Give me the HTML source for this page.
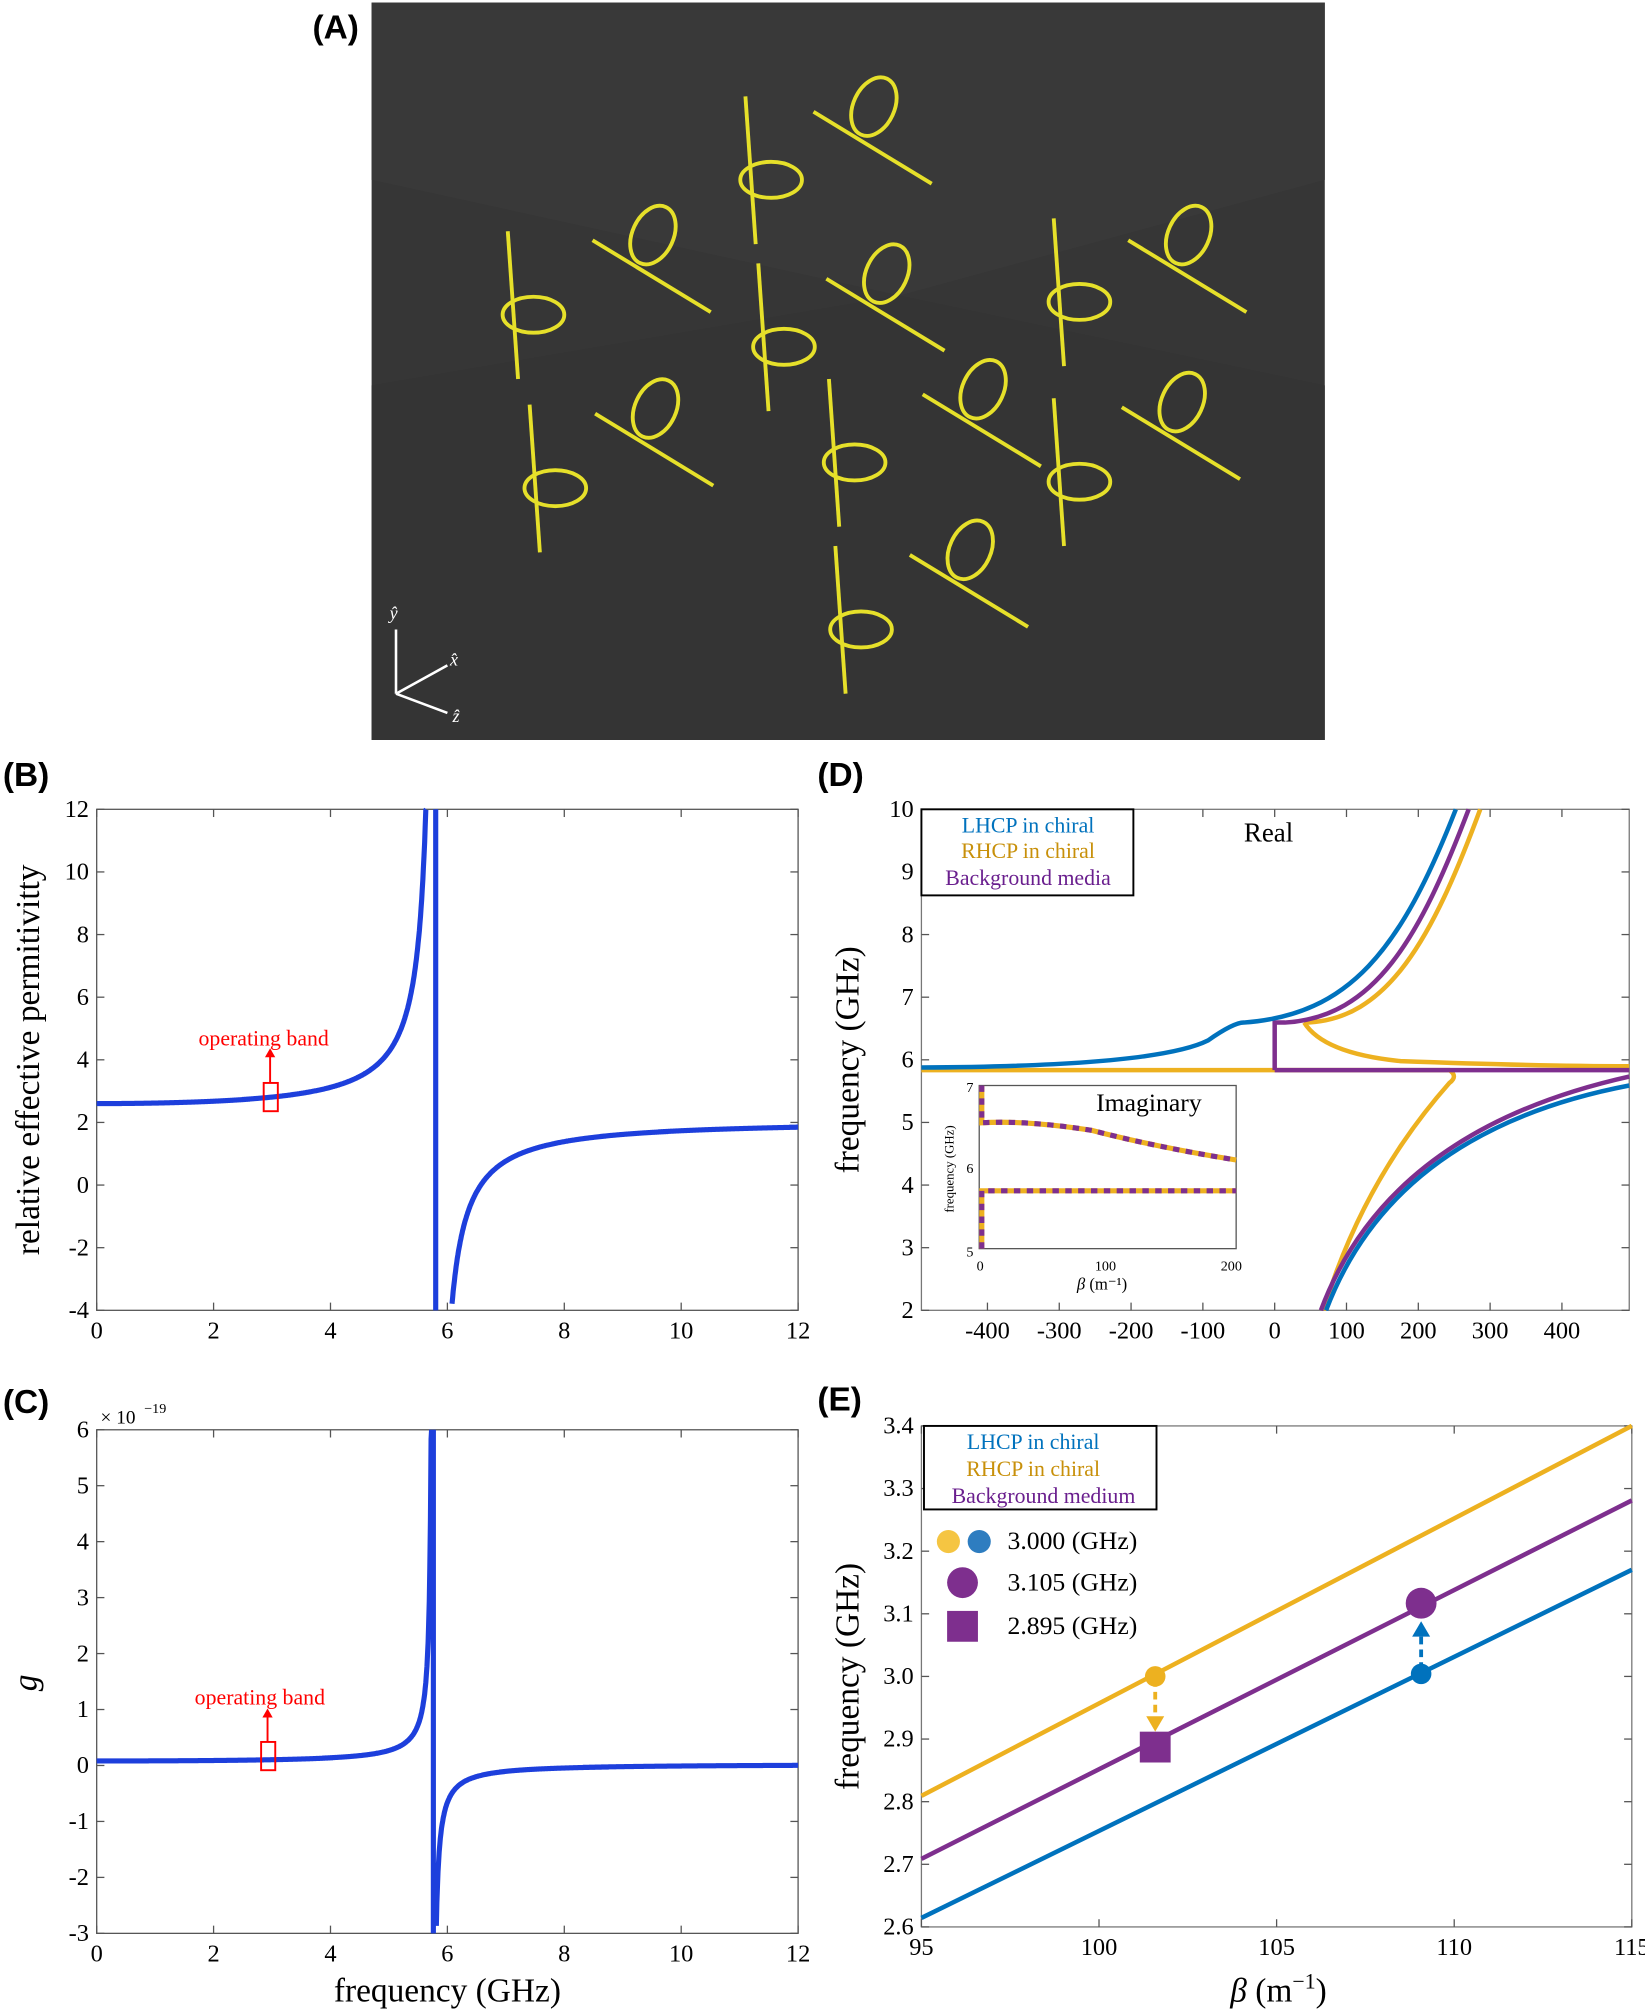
<!DOCTYPE html>
<html><head><meta charset="utf-8"><style>
html,body{margin:0;padding:0;background:#fff}
svg{display:block}
text{font-family:"Liberation Serif",serif}
.lab{font-family:"Liberation Sans",sans-serif;font-weight:bold;font-size:26px}
</style></head><body>
<svg id="s" width="1645" height="2013" viewBox="0 0 1280 1567" xmlns="http://www.w3.org/2000/svg">
<!-- Panel A -->
<text class="lab" x="243" y="30">(A)</text>
<rect x="289" y="2" width="742" height="574" fill="#363636"/>
<polygon points="289,2 1031,2 1031,140 700,230 289,140" fill="#393939"/>
<polygon points="289,300 700,230 1031,300 1031,576 289,576" fill="#343434"/>
<g stroke="#e6e02a" stroke-width="3" fill="none" id="helices"></g>
<g stroke="#fff" stroke-width="2" fill="none">
<line x1="308" y1="540" x2="308" y2="490"/><line x1="308" y1="540" x2="348" y2="518"/><line x1="308" y1="540" x2="348" y2="555"/>
</g>
<g fill="#fff" font-size="14" font-style="italic"><text x="303" y="482">ŷ</text><text x="350" y="518">x̂</text><text x="352" y="562">ẑ</text></g>

<!-- Panel B -->
<text class="lab" x="2" y="612">(B)</text>
<rect x="75" y="630" width="546" height="390" fill="none" stroke="#555" stroke-width="1"/>
<g id="bt"></g>
<path id="bc" fill="none" stroke="#1d3fdc" stroke-width="4"/>
<text x="30" y="825" font-size="26" transform="rotate(-90 30 825)" text-anchor="middle">relative effective permitivitty</text>
<rect x="205" y="843" width="11" height="22" fill="none" stroke="red" stroke-width="1.5"/>
<line x1="210" y1="843" x2="210" y2="822" stroke="red" stroke-width="1.5"/><polygon points="206,823 214,823 210,816" fill="red"/>
<text x="205" y="814" fill="red" font-size="17" text-anchor="middle">operating band</text>

<!-- Panel C -->
<text class="lab" x="2" y="1100">(C)</text>
<text x="78" y="1108" font-size="15">× 10</text><text x="112" y="1100" font-size="11">−19</text>
<rect x="75" y="1113" width="546" height="392" fill="none" stroke="#555" stroke-width="1"/>
<g id="ct"></g>
<path id="cc" fill="none" stroke="#1d3fdc" stroke-width="4"/>
<text x="28" y="1310" font-size="26" font-style="italic" transform="rotate(-90 28 1310)" text-anchor="middle">g</text>
<text x="348" y="1558" font-size="26" text-anchor="middle">frequency (GHz)</text>
<rect x="203" y="1356" width="11" height="22" fill="none" stroke="red" stroke-width="1.5"/>
<line x1="208" y1="1356" x2="208" y2="1336" stroke="red" stroke-width="1.5"/><polygon points="204,1337 212,1337 208,1330" fill="red"/>
<text x="202" y="1327" fill="red" font-size="17" text-anchor="middle">operating band</text>

<!-- Panel D -->
<text class="lab" x="636" y="612">(D)</text>
<rect x="717" y="630" width="551" height="390" fill="none" stroke="#777" stroke-width="1"/>
<g id="dt"></g>
<text x="668" y="825" font-size="26" transform="rotate(-90 668 825)" text-anchor="middle">frequency (GHz)</text>
<g fill="none" stroke-width="3.5">
<path stroke="#EDB120" d="M717,833 L1128,833 Q1135,838 1128,843 Q1060,920 1030,1020"/>
<path stroke="#EDB120" d="M1015,796 Q1030,820 1090,826 Q1200,830 1268,830"/>
<path stroke="#EDB120" d="M1015,796 C1080,795 1115,730 1152,630"/>
<path stroke="#7E2F8E" d="M992,833 L1268,833 M992,833 L992,796 L1000,796 C1070,792 1105,730 1143,630"/>
<path stroke="#7E2F8E" d="M1028,1020 Q1080,880 1268,838"/>
<path stroke="#0072BD" d="M717,831 Q900,830 940,810 Q960,796 968,796 C1050,790 1090,740 1133,630"/>
<path stroke="#0072BD" d="M1032,1020 Q1085,880 1268,845"/>
</g>
<rect x="717" y="630" width="165" height="67" fill="#fff" stroke="#000" stroke-width="1.5"/>
<text x="800" y="648" fill="#0072BD" font-size="17" text-anchor="middle">LHCP in chiral</text>
<text x="800" y="668" fill="#C8900A" font-size="17" text-anchor="middle">RHCP in chiral</text>
<text x="800" y="689" fill="#6A1F8E" font-size="17" text-anchor="middle">Background media</text>
<text x="968" y="655" font-size="21">Real</text>
<rect x="762" y="845" width="200" height="127" fill="#fff" stroke="#555" stroke-width="1"/>
<text x="853" y="865" font-size="20">Imaginary</text>
<g fill="none" stroke-width="4">
<path stroke="#EDB120" d="M764,845 L764,874 Q800,872 850,880 Q900,893 962,903 M764,972 L764,927 L962,927"/>
<path stroke="#7E2F8E" stroke-dasharray="5,5" d="M764,845 L764,874 Q800,872 850,880 Q900,893 962,903 M764,972 L764,927 L962,927"/>
</g>
<g font-size="11"><text x="752" y="850">7</text><text x="752" y="913">6</text><text x="752" y="978">5</text>
<text x="760" y="989">0</text><text x="852" y="989">100</text><text x="950" y="989">200</text>
<text x="838" y="1004" font-size="13"><tspan font-style="italic">β</tspan> (m⁻¹)</text>
<text x="742" y="910" transform="rotate(-90 742 910)" text-anchor="middle" font-size="10">frequency (GHz)</text></g>

<!-- Panel E -->
<text class="lab" x="636" y="1098">(E)</text>
<rect x="717" y="1110" width="553" height="390" fill="none" stroke="#777" stroke-width="1"/>
<g id="et"></g>
<text x="668" y="1305" font-size="26" transform="rotate(-90 668 1305)" text-anchor="middle">frequency (GHz)</text>
<text x="995" y="1558" font-size="26" text-anchor="middle"><tspan font-style="italic">β</tspan> (m<tspan font-size="17" dy="-10">−1</tspan><tspan dy="10">)</tspan></text>
<g stroke-width="3.5">
<line x1="717" y1="1398" x2="1270" y2="1110" stroke="#EDB120"/>
<line x1="717" y1="1447" x2="1270" y2="1168" stroke="#7E2F8E"/>
<line x1="717" y1="1493" x2="1270" y2="1222" stroke="#0072BD"/>
</g>
<g stroke-width="3" stroke-dasharray="6,4">
<line x1="899" y1="1307" x2="899" y2="1340" stroke="#EDB120"/>
<line x1="1106" y1="1300" x2="1106" y2="1270" stroke="#0072BD"/>
</g>
<polygon points="892,1336 906,1336 899,1348" fill="#EDB120"/>
<polygon points="1099,1274 1113,1274 1106,1262" fill="#0072BD"/>
<circle cx="899" cy="1305" r="8" fill="#EDB120"/>
<rect x="887" y="1348" width="24" height="24" fill="#7E2F8E"/>
<circle cx="1106" cy="1248" r="12" fill="#7E2F8E"/>
<circle cx="1106" cy="1303" r="8" fill="#0072BD"/>
<rect x="719" y="1110" width="181" height="65" fill="#fff" stroke="#000" stroke-width="1.5"/>
<text x="804" y="1128" fill="#0072BD" font-size="17" text-anchor="middle">LHCP in chiral</text>
<text x="804" y="1149" fill="#C8900A" font-size="17" text-anchor="middle">RHCP in chiral</text>
<text x="812" y="1170" fill="#6A1F8E" font-size="17" text-anchor="middle">Background medium</text>
<circle cx="738" cy="1200" r="9" fill="#F5C542"/><circle cx="762" cy="1200" r="9" fill="#2E7DC0"/>
<text x="784" y="1206" font-size="20">3.000 (GHz)</text>
<circle cx="749" cy="1232" r="12" fill="#7E2F8E"/>
<text x="784" y="1238" font-size="20">3.105 (GHz)</text>
<rect x="737" y="1254" width="24" height="24" fill="#7E2F8E"/>
<text x="784" y="1272" font-size="20">2.895 (GHz)</text>
</svg>
<script>
var FF='font-family="Liberation Serif, serif"';
function ticks(id,x0,x1,y0,y1,xs,ys,fx,fy,fs){
 var g=document.getElementById(id),h='';
 xs.forEach(function(v){var x=fx(v);h+='<line x1="'+x+'" y1="'+y1+'" x2="'+x+'" y2="'+(y1-6)+'" stroke="#555"/><line x1="'+x+'" y1="'+y0+'" x2="'+x+'" y2="'+(y0+6)+'" stroke="#555"/><text '+FF+' font-size="'+fs+'" x="'+x+'" y="'+(y1+22)+'" text-anchor="middle">'+v+'</text>';});
 ys.forEach(function(v){var y=fy(v);h+='<line x1="'+x0+'" y1="'+y+'" x2="'+(x0+6)+'" y2="'+y+'" stroke="#555"/><line x1="'+x1+'" y1="'+y+'" x2="'+(x1-6)+'" y2="'+y+'" stroke="#555"/><text '+FF+' font-size="'+fs+'" x="'+(x0-6)+'" y="'+(y+6)+'" text-anchor="end">'+v+'</text>';});
 g.innerHTML=h;
}
var bx=function(f){return 75+f*45.5},by=function(e){return 1020-(e+4)*24.375};
ticks('bt',75,621,630,1020,[0,2,4,6,8,10,12],[-4,-2,0,2,4,6,8,10,12],bx,by,19);
var cy=function(g){return 1505-(g+3)*43.56};
ticks('ct',75,621,1113,1505,[0,2,4,6,8,10,12],[-3,-2,-1,0,1,2,3,4,5,6],bx,cy,19);
var dx=function(b){return 992+b*0.559},dy=function(f){return 1020-(f-2)*48.75};
ticks('dt',717,1268,630,1020,[-400,-300,-200,-100,0,100,200,300,400],[2,3,4,5,6,7,8,9,10],dx,dy,19);
var ex=function(b){return 717+(b-95)*27.65},ey=function(f){return 1500-(f-2.6)*487.5};
ticks('et',717,1270,1110,1500,[95,100,105,110,115],['2.6','2.7','2.8','2.9','3.0','3.1','3.2','3.3','3.4'],ex,function(v){return ey(parseFloat(v))},19);
function curve(fn,f0,clipT,clipB,yf){
 var p='',st=true;
 for(var f=0;f<=12;f+=0.01){var v=fn(f),y=yf(v);
  if(y<clipT||y>clipB){ if(!st){p+=' L'+bx(f).toFixed(1)+','+(y<clipT?clipT:clipB);} st=true; continue;}
  p+=(st?' M':' L')+bx(f).toFixed(1)+','+y.toFixed(1);st=false;}
 return p;
}
var f0=5.8;
document.getElementById('bc').setAttribute('d',curve(function(f){return 2.025+0.575*f0*f0/(f0*f0-f*f)},f0,630,1020,by)+' M'+bx(5.8)+',630 L'+bx(5.8)+',1020');
var g0=5.75;
document.getElementById('cc').setAttribute('d',curve(function(f){return 0.02+2.0/(g0*g0-f*f)},g0,1113,1505,cy)+' M'+bx(5.76)+',1113 L'+bx(5.76)+',1505');
var hs=[[415,245],[503,195],[600,140],[675,95],[610,270],[685,225],[840,235],[920,195],[432,380],[505,330],[665,360],[760,315],[840,375],[915,325],[670,490],[750,440]];
var h='';
hs.forEach(function(c,i){var x=c[0],y=c[1];
 if(i%2==0){h+='<line x1="'+(x-20)+'" y1="'+(y-65)+'" x2="'+(x-12)+'" y2="'+(y+50)+'"/><ellipse cx="'+x+'" cy="'+y+'" rx="24" ry="14"/>';}
 else{h+='<line x1="'+(x-42)+'" y1="'+(y-8)+'" x2="'+(x+50)+'" y2="'+(y+48)+'"/><ellipse cx="'+(x+5)+'" cy="'+(y-12)+'" rx="16" ry="24" transform="rotate(25 '+(x+5)+' '+(y-12)+')"/>';}
});
document.getElementById('helices').innerHTML=h;
</script>
</body></html>
